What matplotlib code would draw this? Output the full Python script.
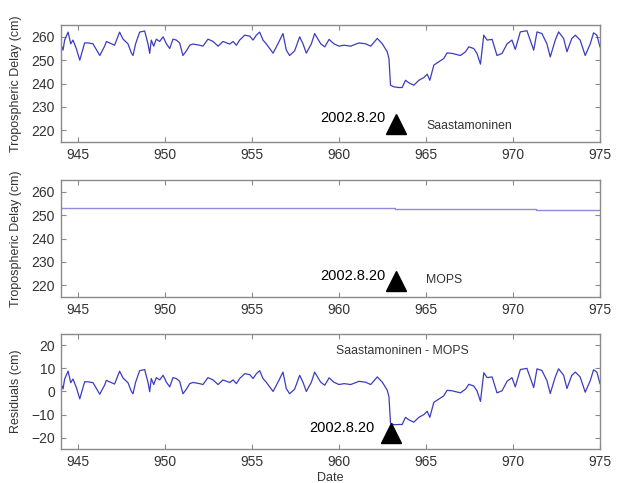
import numpy as np
import matplotlib
matplotlib.use('Agg')
import matplotlib.pyplot as plt

matplotlib.rcParams['font.family'] = ['Liberation Sans', 'DejaVu Sans']
matplotlib.rcParams['xtick.direction'] = 'in'
matplotlib.rcParams['ytick.direction'] = 'in'

# Saastamoninen tropospheric delay (cm)
sast_days = [944.0, 944.14, 944.23, 944.43, 944.58, 944.71, 944.9, 945.1, 945.25, 945.38,
             945.57, 945.86, 946.25, 946.53, 946.63, 946.92, 947.1, 947.39, 947.59, 947.87,
             948.07, 948.16, 948.31, 948.54, 948.83, 949.02, 949.12, 949.21, 949.35, 949.5,
             949.69, 949.89, 950.08, 950.27, 950.46, 950.65, 950.84, 951.03, 951.23, 951.42,
             951.61, 951.99, 952.18, 952.47, 952.76, 953.05, 953.33, 953.72, 953.91, 954.1,
             954.29, 954.58, 954.87, 955.06, 955.25, 955.44, 955.63, 955.82, 956.21, 956.49,
             956.78, 956.97, 957.16, 957.45, 957.74, 957.93, 958.12, 958.41, 958.6, 958.79,
             958.95, 959.18, 959.43, 959.71, 960.0, 960.29, 960.67, 961.15, 961.53, 961.82,
             962.2, 962.49, 962.77, 962.87, 962.96, 963.15, 963.44, 963.63, 963.82, 964.02,
             964.3, 964.59, 964.88, 965.07, 965.22, 965.45, 965.74, 966.02, 966.21, 966.5,
             966.98, 967.27, 967.46, 967.74, 967.93, 968.13, 968.32, 968.51, 968.8, 969.08,
             969.37, 969.66, 969.94, 970.13, 970.42, 970.8, 970.99, 971.19, 971.38, 971.66,
             971.95, 972.14, 972.43, 972.62, 972.91, 973.1, 973.38, 973.58, 973.86, 974.15,
             974.44, 974.63, 974.82, 975.0]
sast_vals = [257, 254.3, 258.6, 262, 257, 258.6, 255, 250, 254, 257.4,
             257.4, 257, 252, 256, 258, 257, 256.4, 262, 259, 257,
             253, 252, 257, 262, 262.5, 257, 252.9, 258.6, 256, 259,
             258, 260, 257, 255, 259, 258.6, 257.4, 252, 254, 256.4,
             256.9, 256.4, 256, 259, 258, 256, 258, 256.9, 258, 256.4,
             258.6, 260.7, 260.3, 258.6, 260.7, 262, 258.6, 257, 253, 257,
             261.4, 254.3, 252, 254, 260, 257, 253, 257, 261.4, 259,
             257, 255.7, 258.9, 257, 256, 256.4, 256, 257.4, 257, 256,
             259.3, 257, 253.6, 250.7, 239.3, 238.6, 238.3, 238.3, 241.4, 240.3,
             239.3, 241.4, 242.6, 244, 241.4, 247.9, 249.3, 250.7, 253.1, 252.9,
             252, 253.6, 255.7, 255, 252.9, 248.3, 260.7, 258.6, 258.9, 252,
             252.9, 257, 258.6, 254.6, 262.1, 262.6, 258.6, 254.3, 262.1, 261.4,
             257, 251.4, 258.6, 262.1, 259.3, 253.6, 259.3, 260.7, 258.6, 252,
             257, 261.7, 260.7, 255.7]

# MOPS model delay (cm), nearly constant step line
mops_days = [944.0, 947.9, 963.2, 971.3, 975.0]
mops_vals = [253.2, 253.0, 252.6, 252.3, 252.3]

# event marker 2002.8.20
event_label = '2002.8.20'
event_day = [963.3, 963.3, 963.0]
event_val = [222.6, 222.0, -18.0]

x_ticks = [945, 950, 955, 960, 965, 970, 975]
delay_ticks = [220, 230, 240, 250, 260]
resid_ticks = [-20, -10, 0, 10, 20]

sast_days = np.array(sast_days)
sast_vals = np.array(sast_vals)
idx = np.searchsorted(mops_days, sast_days, side='right') - 1
idx = np.clip(idx, 0, len(mops_vals) - 1)
resid_vals = sast_vals - np.array(mops_vals)[idx]

line_col = '#3c3cc0'
spine_col = '#8a8a8a'
txt_col = '#333333'

fig = plt.figure(figsize=(6.25, 4.83), dpi=100)
ax1 = fig.add_axes([0.097, 0.706, 0.863, 0.242])
ax2 = fig.add_axes([0.097, 0.385, 0.863, 0.242])
ax3 = fig.add_axes([0.097, 0.070, 0.863, 0.239])


def style(ax, yticks, ylim, ylabel):
    ax.set_xlim(944, 975)
    ax.set_ylim(*ylim)
    ax.set_xticks(x_ticks)
    ax.set_yticks(yticks)
    ax.tick_params(which='both', top=True, right=True, length=3.5, width=0.8,
                   color=spine_col, labelcolor=txt_col, labelsize=10, pad=4)
    for s in ax.spines.values():
        s.set_color(spine_col)
        s.set_linewidth(1.0)
    ax.set_ylabel(ylabel, fontsize=9, color=txt_col)
    ax.yaxis.set_label_coords(-0.072, 0.5)


# top panel
ax1.plot(sast_days, sast_vals, color=line_col, lw=0.9)
ax1.plot(event_day[0], event_val[0], marker='^', color='black', ms=14, ls='none')
ax1.text(962.65, 225.2, event_label, ha='right', va='center', fontsize=10.5, color='black')
ax1.text(965.05, 221.7, 'Saastamoninen', ha='left', va='center', fontsize=8.8, color=txt_col)
style(ax1, delay_ticks, (215, 265), 'Tropospheric Delay (cm)')

# middle panel
ax2.plot(mops_days, mops_vals, color='#8c8cd8', lw=1.0, drawstyle='steps-post')
ax2.plot(event_day[1], event_val[1], marker='^', color='black', ms=14, ls='none')
ax2.text(962.65, 224.0, event_label, ha='right', va='center', fontsize=10.5, color='black')
ax2.text(965.0, 222.2, 'MOPS', ha='left', va='center', fontsize=8.8, color=txt_col)
style(ax2, delay_ticks, (215, 265), 'Tropospheric Delay (cm)')

# bottom panel
ax3.plot(sast_days, resid_vals, color=line_col, lw=0.9)
ax3.plot(event_day[2], event_val[2], marker='^', color='black', ms=14, ls='none')
ax3.text(962.05, -15.7, event_label, ha='right', va='center', fontsize=10.5, color='black')
ax3.text(959.8, 17.6, 'Saastamoninen - MOPS', ha='left', va='center', fontsize=8.8, color=txt_col)
style(ax3, resid_ticks, (-25, 25), 'Residuals (cm)')
ax3.set_xlabel('Date', fontsize=9, color=txt_col, labelpad=2)

fig.savefig('out.png', dpi=100)
